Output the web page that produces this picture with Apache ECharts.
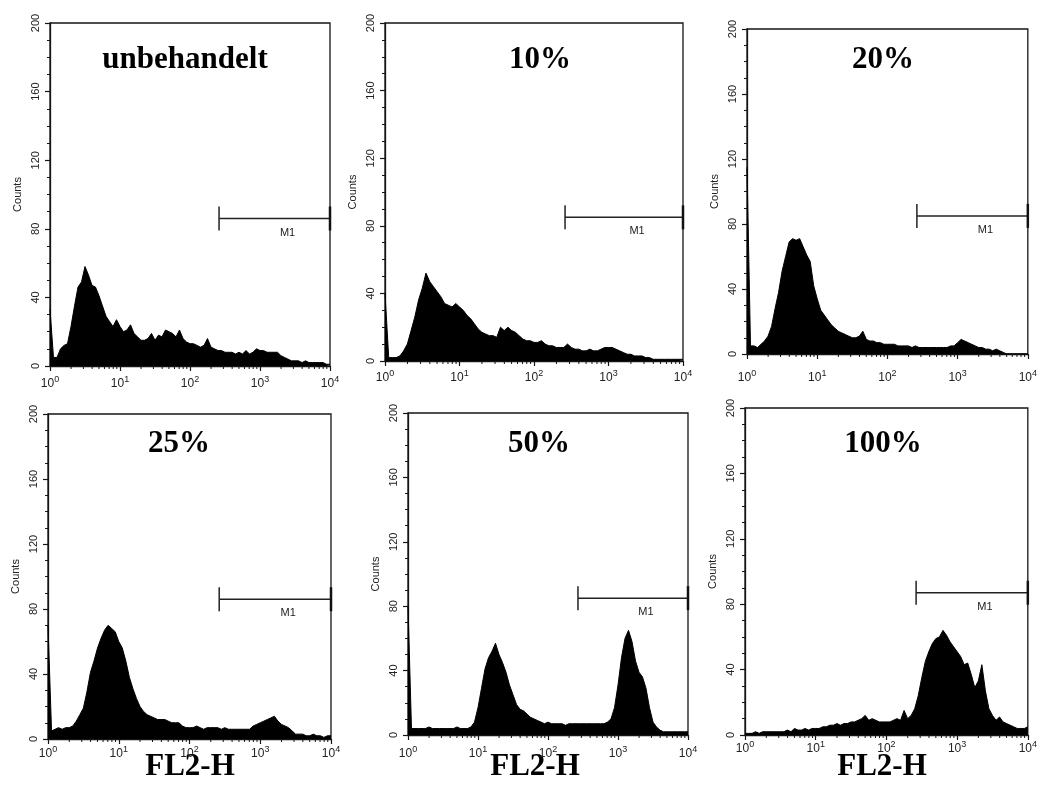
<!DOCTYPE html>
<html><head><meta charset="utf-8">
<script src="https://cdn.jsdelivr.net/npm/echarts@6/dist/echarts.min.js"></script>
<style>html,body{margin:0;padding:0;background:#fff}#c{width:1040px;height:794px}</style>
</head><body><div id="c"></div>
<script>
// FL2-H channels (log scale, 20 channels per decade)
const channels = [1,1.122,1.259,1.413,1.585,1.778,1.995,2.239,2.512,2.818,3.162,3.548,3.981,4.467,5.012,5.623,6.310,7.079,7.943,8.913,
  10,11.22,12.59,14.13,15.85,17.78,19.95,22.39,25.12,28.18,31.62,35.48,39.81,44.67,50.12,56.23,63.10,70.79,79.43,89.13,
  100,112.2,125.9,141.3,158.5,177.8,199.5,223.9,251.2,281.8,316.2,354.8,398.1,446.7,501.2,562.3,631.0,707.9,794.3,891.3,
  1000,1122,1259,1413,1585,1778,1995,2239,2512,2818,3162,3548,3981,4467,5012,5623,6310,7079,7943,8913,10000];

const countsUnbehandelt = [33,5,5,10,12,13,23,35,46,49,58,53,47,46,41,35,29,26,23,27,
  23,20,21,24,19,17,15,15,16,19,15,18,17,21,20,19,17,21,16,14,
  13,13,12,11,12,16,11,10,9,9,8,8,8,7,8,7,9,7,8,10,
  9,9,8,8,8,8,6,5,4,3,3,3,2,3,2,2,2,2,2,1,1];
const counts10 = [40,2,2,2,3,6,10,18,26,36,43,52,47,44,41,38,34,33,32,34,
  32,30,27,25,22,19,17,16,15,15,14,20,18,20,18,17,15,13,12,12,
  11,11,12,10,9,9,8,8,8,10,8,7,7,6,6,7,6,6,7,8,
  8,8,7,6,5,4,4,3,3,3,2,2,1,1,1,1,1,1,1,1,1];
const counts20 = [115,5,5,4,6,8,11,17,28,38,51,60,69,71,70,71,66,61,57,42,
  34,27,24,21,18,16,14,13,12,11,10,10,11,14,9,8,8,7,7,6,
  6,6,6,5,5,5,5,4,5,4,4,4,4,4,4,4,4,4,5,5,
  7,9,8,7,6,5,4,4,3,3,2,3,2,1,0,0,0,0,0,0,0];
const counts25 = [70,5,6,7,6,7,7,8,11,15,19,29,41,48,56,62,67,70,68,66,
  60,56,48,38,31,25,20,17,15,14,13,12,12,12,11,10,10,10,8,7,
  7,7,8,7,6,7,7,7,7,6,7,6,6,6,6,6,6,6,8,9,
  10,11,12,13,14,11,9,8,7,5,3,3,3,2,2,3,2,2,1,2,2];
const counts50 = [80,4,4,4,4,4,5,4,4,4,4,4,4,4,5,4,4,4,5,8,
  17,29,41,48,52,57,50,45,39,31,25,19,16,15,13,11,10,9,8,7,
  8,7,7,7,7,6,7,7,7,7,7,7,7,7,7,7,7,8,10,17,
  31,48,60,65,58,46,39,36,29,17,8,5,3,2,2,2,2,2,2,2,2];
const counts100 = [1,1,1,2,1,2,2,2,2,2,2,2,3,2,4,3,3,4,3,4,
  4,4,5,5,6,6,7,6,7,7,8,8,9,10,12,9,10,9,8,8,
  8,8,9,10,9,15,10,12,16,24,35,45,51,56,59,60,64,61,57,54,
  51,48,43,44,37,29,33,43,27,16,12,9,11,8,7,6,5,4,4,4,5];

const panelTitles = ['unbehandelt', '10%', '20%', '25%', '50%', '100%'];
const xAxisTitle = 'FL2-H';
const yAxisTitle = 'Counts';
const yMin = 0, yMax = 200, yStep = 40;
const xMin = 1, xMax = 10000;
const xMinorTicks = [2,3,4,5,6,7,8,9,20,30,40,50,60,70,80,90,200,300,400,500,600,700,800,900,2000,3000,4000,5000,6000,7000,8000,9000];
const m1Start = [260, 261, 263, 263, 268, 263];
const m1Level = [86, 85, 85, 86, 85, 87];
const m1End = 10000;
const m1Label = 'M1';

const allCounts = [countsUnbehandelt, counts10, counts20, counts25, counts50, counts100];

// layout
const grids = [
  {left: 50, top: 23, width: 280, height: 343},
  {left: 385, top: 23, width: 298, height: 338},
  {left: 747, top: 29, width: 283, height: 325},
  {left: 48, top: 414, width: 283, height: 325},
  {left: 408, top: 413, width: 280, height: 322},
  {left: 745, top: 408, width: 286, height: 327}
];
const xLabelMargin = [9, 8, 15, 6, 10, 5];
const titlePos = [[185, 60], [540, 60], [883, 60], [179, 444], [539, 444], [883, 444]];
const xTitlePos = [[190, 767], [535, 767], [882, 767]];

const font = '"Liberation Sans", Arial, sans-serif';
const ink = '#151515';

const option = {
  animation: false,
  backgroundColor: '#fff',
  grid: grids.map(g => Object.assign({show: true, borderColor: ink, borderWidth: 1.3, backgroundColor: 'transparent'}, g)),
  xAxis: grids.map((g, i) => ({
    type: 'log', logBase: 10, gridIndex: i, min: xMin, max: xMax,
    axisLine: {show: true, onZero: false, lineStyle: {color: ink, width: 1.3}},
    axisTick: {show: true, length: 5, lineStyle: {color: ink, width: 1.2}},
    splitLine: {show: false},
    axisLabel: {
      margin: xLabelMargin[i], color: '#222', fontFamily: font,
      formatter: v => '{b|10}{s|' + Math.round(Math.log10(v)) + '}',
      rich: {
        b: {fontSize: 12, fontFamily: font, color: '#222'},
        s: {fontSize: 9, fontFamily: font, color: '#222', verticalAlign: 'bottom', padding: [0, 0, 8, 0]}
      }
    }
  })),
  yAxis: grids.map((g, i) => ({
    type: 'value', gridIndex: i, min: yMin, max: yMax, interval: yStep,
    name: yAxisTitle, nameLocation: 'middle', nameRotate: 90, nameGap: 27,
    nameTextStyle: {fontSize: 11, fontFamily: font, color: '#222'},
    axisLine: {show: true, lineStyle: {color: ink, width: 1.3}},
    axisTick: {show: true, length: 5, lineStyle: {color: ink, width: 1.2}},
    minorTick: {show: true, splitNumber: 4, length: 3, lineStyle: {color: ink, width: 1}},
    splitLine: {show: false},
    axisLabel: {rotate: 90, margin: 9, fontSize: 11, fontFamily: font, color: '#222'}
  })),
  series: [].concat(
    allCounts.map((arr, i) => ({
      type: 'line', xAxisIndex: i, yAxisIndex: i, symbol: 'none', silent: true,
      data: channels.map((c, k) => [c, arr[k]]),
      lineStyle: {color: '#000', width: 1},
      areaStyle: {color: '#000', opacity: 1}
    })),
    grids.map((g, i) => ({
      type: 'custom', xAxisIndex: i, yAxisIndex: i, silent: true,
      data: xMinorTicks.map(v => [v, yMin]),
      renderItem: (params, api) => {
        const p = api.coord([api.value(0), api.value(1)]);
        return {type: 'line', shape: {x1: p[0], y1: p[1], x2: p[0], y2: p[1] + 3}, style: {stroke: ink, lineWidth: 1}};
      }
    })),
    grids.map((g, i) => ({
      type: 'custom', xAxisIndex: i, yAxisIndex: i, silent: true, z: 5,
      data: [[m1Start[i], m1End, m1Level[i]]],
      renderItem: (params, api) => {
        const a = api.coord([api.value(0), api.value(2)]);
        const b = api.coord([api.value(1), api.value(2)]);
        const st = {stroke: '#222', lineWidth: 1.5};
        return {type: 'group', children: [
          {type: 'line', shape: {x1: a[0], y1: a[1], x2: b[0], y2: b[1]}, style: st},
          {type: 'line', shape: {x1: a[0], y1: a[1] - 12, x2: a[0], y2: a[1] + 12}, style: st},
          {type: 'line', shape: {x1: b[0], y1: b[1] - 12, x2: b[0], y2: b[1] + 12}, style: {stroke: '#111', lineWidth: 2.5}},
          {type: 'text', x: (a[0] + b[0]) / 2 + 13, y: a[1] + 14,
           style: {text: m1Label, fill: '#222', font: '11px ' + font, align: 'center', verticalAlign: 'middle'}}
        ]};
      }
    }))
  ),
  graphic: [].concat(
    panelTitles.map((t, i) => ({
      type: 'text', x: titlePos[i][0], y: titlePos[i][1], silent: true,
      style: {text: t, fill: '#000', font: 'bold 31px "Liberation Serif", "Times New Roman", serif', align: 'center', verticalAlign: 'middle'}
    })),
    xTitlePos.map(p => ({
      type: 'text', x: p[0], y: p[1], silent: true,
      style: {text: xAxisTitle, fill: '#000', font: 'bold 31px "Liberation Serif", "Times New Roman", serif', align: 'center', verticalAlign: 'middle'}
    }))
  )
};

const chart = echarts.init(document.getElementById('c'), null, {renderer: 'canvas'});
chart.setOption(option);
</script>
</body></html>
